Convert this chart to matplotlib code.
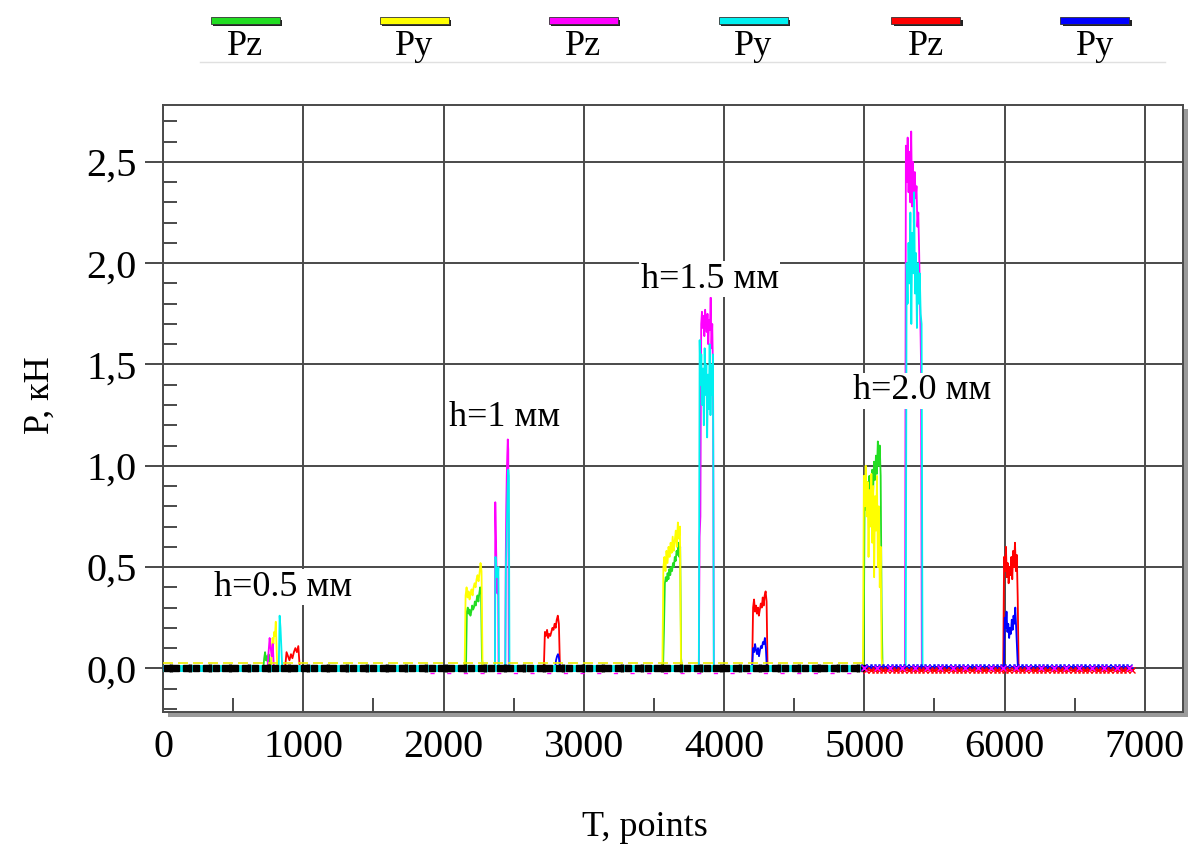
import numpy as np
import matplotlib
matplotlib.use("Agg")
import matplotlib.pyplot as plt
from matplotlib.patches import Rectangle
from matplotlib.lines import Line2D

# ---------------- data ----------------
legend_labels = ["Pz", "Py", "Pz", "Py", "Pz", "Py"]
series_colors = ["#22dd22", "#ffff00", "#ff00ff", "#00f0f0", "#ff0000", "#0000ff"]

x_ticks = [0, 1000, 2000, 3000, 4000, 5000, 6000, 7000]
y_ticks = [0.0, 0.5, 1.0, 1.5, 2.0, 2.5]
y_ticklabels = ["0,0", "0,5", "1,0", "1,5", "2,0", "2,5"]

annotations = [("h=0.5 мм", 855, 0.40), ("h=1 мм", 2437, 1.24),
               ("h=1.5 мм", 3899, 1.92), ("h=2.0 мм", 5410, 1.37)]

# segments: (T start, T end, values)
green_segments = [
    (715, 765, [0, 0.05, 0.08, 0.04, 0.06, 0.03, 0.07, 0.05, 0]),
    (2160, 2280, [0, 0.28, 0.30, 0.27, 0.29, 0.26, 0.28, 0.31, 0.29, 0.30, 0.33, 0.31,
                  0.34, 0.36, 0.33, 0.37, 0.40, 0.38, 0.05, 0]),
    (3565, 3700, [0, 0.19, 0.42, 0.45, 0.43, 0.47, 0.44, 0.49, 0.46, 0.50, 0.48, 0.52,
                  0.50, 0.55, 0.53, 0.58, 0.56, 0.62, 0.55, 0.60, 0.05, 0]),
    (4995, 5130, [0, 0.80, 0.88, 0.78, 0.92, 0.85, 0.95, 0.83, 0.90, 0.98, 0.87, 1.02,
                  0.93, 1.05, 0.96, 1.12, 1.00, 1.10, 0.95, 0.30, 0]),
]
yellow_segments = [
    (770, 815, [0, 0.10, 0.15, 0.12, 0.18, 0.16, 0.23, 0.10, 0]),
    (2150, 2285, [0, 0.36, 0.40, 0.35, 0.38, 0.34, 0.37, 0.39, 0.36, 0.40, 0.42, 0.40,
                  0.44, 0.46, 0.43, 0.47, 0.52, 0.48, 0.02, 0]),
    (3560, 3700, [0, 0.50, 0.55, 0.48, 0.58, 0.52, 0.60, 0.55, 0.62, 0.57, 0.65, 0.58,
                  0.63, 0.68, 0.60, 0.72, 0.64, 0.70, 0.02, 0]),
    (4990, 5130, [0, 0.95, 0.80, 1.00, 0.75, 0.92, 0.55, 0.88, 0.70, 0.96, 0.62, 0.90,
                  0.45, 0.85, 0.68, 0.95, 0.50, 0.80, 0.40, 0.60, 0.05, 0]),
]
magenta_segments = [
    (745, 790, [0, 0.08, 0.15, 0.10, 0.06, 0.12, 0]),
    (2366, 2392, [0, 0.82, 0.70, 0.60, 0.50, 0.42, 0.37, 0.40, 0.45, 0]),
    (2440, 2465, [0, 0.55, 0.80, 0.95, 1.05, 1.13, 1.08, 0]),
    (3820, 3927, [0, 0.65, 0.75, 1.70, 1.76, 1.68, 1.74, 1.64, 1.77, 1.70, 1.66, 1.75,
                  1.60, 1.72, 1.67, 1.83, 1.58, 1.70, 1.45, 0]),
    (5290, 5410, [0, 2.58, 2.40, 2.62, 2.35, 2.55, 2.30, 2.65, 2.28, 2.50, 2.20, 2.45,
                  2.32, 2.38, 2.18, 2.25, 2.05, 1.80, 1.53, 0]),
]
cyan_segments = [
    (825, 850, [0, 0.26, 0.20, 0.10, 0]),
    (2366, 2395, [0, 0.55, 0.50, 0.45, 0.48, 0.45, 0.50, 0]),
    (2440, 2470, [0, 0.50, 0.60, 0.75, 0.90, 0.98, 0.95, 0]),
    (3820, 3927, [0, 1.62, 1.40, 1.55, 1.30, 1.48, 1.20, 1.58, 1.35, 1.50, 1.14, 1.45,
                  1.28, 1.60, 1.25, 1.50, 1.35, 1.55, 0]),
    (5295, 5415, [0, 2.00, 1.80, 2.10, 1.90, 2.25, 1.70, 2.15, 1.95, 2.35, 1.85, 2.05,
                  1.68, 2.00, 1.80, 1.95, 1.75, 1.70, 0]),
]
red_segments = [
    (870, 975, [0, 0.08, 0.06, 0.04, 0.07, 0.05, 0.08, 0.10, 0.08, 0.11, 0]),
    (2715, 2830, [0, 0.18, 0.16, 0.19, 0.15, 0.17, 0.16, 0.18, 0.20, 0.19, 0.22, 0.20,
                  0.24, 0.26, 0.22, 0]),
    (4200, 4310, [0, 0.30, 0.34, 0.28, 0.31, 0.27, 0.30, 0.26, 0.29, 0.32, 0.30, 0.35,
                  0.31, 0.36, 0.38, 0.33, 0]),
    (5990, 6100, [0, 0.55, 0.48, 0.60, 0.45, 0.52, 0.42, 0.50, 0.46, 0.55, 0.44, 0.58,
                  0.50, 0.62, 0.48, 0.56, 0.35, 0]),
]
blue_segments = [
    (2795, 2830, [0, 0.04, 0.06, 0.07, 0.05, 0]),
    (4200, 4305, [0, 0.10, 0.08, 0.12, 0.09, 0.07, 0.10, 0.06, 0.09, 0.11, 0.10, 0.13,
                  0.12, 0.15, 0.10, 0]),
    (5995, 6095, [0, 0.25, 0.20, 0.28, 0.18, 0.22, 0.15, 0.20, 0.17, 0.24, 0.19, 0.26,
                  0.22, 0.30, 0.20, 0.10, 0]),
]
all_segments = [green_segments, yellow_segments, magenta_segments,
                cyan_segments, red_segments, blue_segments]

record_end = 6920          # last sample T
square_zone_end = 5000     # baseline drawn with square markers up to here

# ---------------- figure ----------------
plt.rcParams['font.family'] = ['Liberation Serif', 'DejaVu Serif']
fig = plt.figure(figsize=(11.9, 8.48), dpi=100)
ax = fig.add_axes([0.137, 0.160, 0.857, 0.716])

# shadow of frame
shadow = Rectangle((0.137 + 0.004, 0.160 - 0.005), 0.857, 0.716,
                   transform=fig.transFigure, facecolor="#9a9a9a", edgecolor="none", zorder=-5)
fig.patches.append(shadow)
ax.set_facecolor("white")

def build(segs):
    xs, ys = [0.0], [0.0]
    for t0, t1, vals in segs:
        xs.extend(np.linspace(t0, t1, len(vals)))
        ys.extend(vals)
    xs.append(record_end)
    ys.append(0.0)
    return np.array(xs), np.array(ys)

for segs, col in zip(all_segments, series_colors):
    xs, ys = build(segs)
    ax.plot(xs, ys, color=col, lw=1.3, zorder=3)

# baseline band (cyan with black squares), then crosses
ax.plot([0, square_zone_end], [0.026, 0.026], color="#eeee00", lw=1.2, zorder=4,
        dashes=(6, 3))
ax.plot([1900, square_zone_end], [-0.024, -0.024], color="#ff00ff", lw=1.0, zorder=4,
        dashes=(3, 9))
ax.plot([0, square_zone_end], [0, 0], color="#00f0f0", lw=5, zorder=4, solid_capstyle="butt")
sq_x = np.arange(25, square_zone_end, 70)
ax.plot(sq_x, np.zeros_like(sq_x), ls="none", marker="s", ms=4.5, mfc="black",
        mec="black", zorder=5)
sq_x2 = np.arange(55, square_zone_end, 140)
ax.plot(sq_x2, np.zeros_like(sq_x2), ls="none", marker="|", ms=6, mew=2.5, color="black",
        zorder=5)
cr_x = np.arange(square_zone_end, record_end, 30)
ax.plot(cr_x, np.zeros_like(cr_x) + 0.006, ls="-", lw=0.8, color="#0000ff", marker="x",
        ms=5, mew=1, zorder=5)
ax.plot(cr_x + 15, np.zeros_like(cr_x) - 0.006, ls="-", lw=0.8, color="#ff0000", marker="x",
        ms=5, mew=1, zorder=5)
ax.plot(cr_x[::3], np.zeros_like(cr_x[::3]), ls="none", color="#ff00ff", marker="x",
        ms=5, mew=1, zorder=5)

for txt, tx, ty in annotations:
    ax.text(tx, ty, txt, fontsize=26, ha="center", va="center", zorder=6,
            bbox=dict(facecolor="white", edgecolor="none", pad=1))

ax.set_xlim(0, 7271)
ax.set_ylim(-0.217, 2.78)
ax.set_xticks(x_ticks)
ax.set_xticklabels([str(v) for v in x_ticks])
ax.set_yticks(y_ticks)
ax.set_yticklabels(y_ticklabels)
ax.set_xticks(np.arange(500, 7271, 1000), minor=True)
ax.set_yticks(np.arange(-0.2, 2.78, 0.1), minor=True)
ax.grid(True, which="major", color="#4a4a4a", lw=1.4, zorder=1)
ax.tick_params(axis="y", which="major", direction="out", length=13, width=1.4,
               color="#4a4a4a", labelsize=29, pad=6)
ax.tick_params(axis="x", which="major", direction="out", length=0, labelsize=29, pad=12)
ax.tick_params(axis="both", which="minor", direction="in", length=10, width=1.4,
               color="#4a4a4a")
for sp in ax.spines.values():
    sp.set_color("#4a4a4a")
    sp.set_linewidth(1.4)
ax.set_axisbelow(True)

fig.text(0.542, 0.024, "T, points", fontsize=26, ha="center", va="center")
fig.text(0.034, 0.534, "P, кН", fontsize=26, ha="center", va="center", rotation=90)

# legend drawn on top of the figure
leg_centers = [0.206, 0.348, 0.490, 0.633, 0.778, 0.920]
for cx, lab, col in zip(leg_centers, legend_labels, series_colors):
    fig.patches.append(Rectangle((cx - 0.029 + 0.002, 0.972 - 0.003), 0.058, 0.008,
                                 transform=fig.transFigure, facecolor="#222222",
                                 edgecolor="none"))
    fig.patches.append(Rectangle((cx - 0.029, 0.972), 0.058, 0.008,
                                 transform=fig.transFigure, facecolor=col,
                                 edgecolor="#333333", lw=0.6))
    fig.text(cx, 0.945, lab, fontsize=26, ha="center", va="center")
fig.lines.append(Line2D([0.168, 0.979], [0.927, 0.927], transform=fig.transFigure,
                        color="#e0e0e0", lw=1))

fig.savefig("out.png", dpi=100)
